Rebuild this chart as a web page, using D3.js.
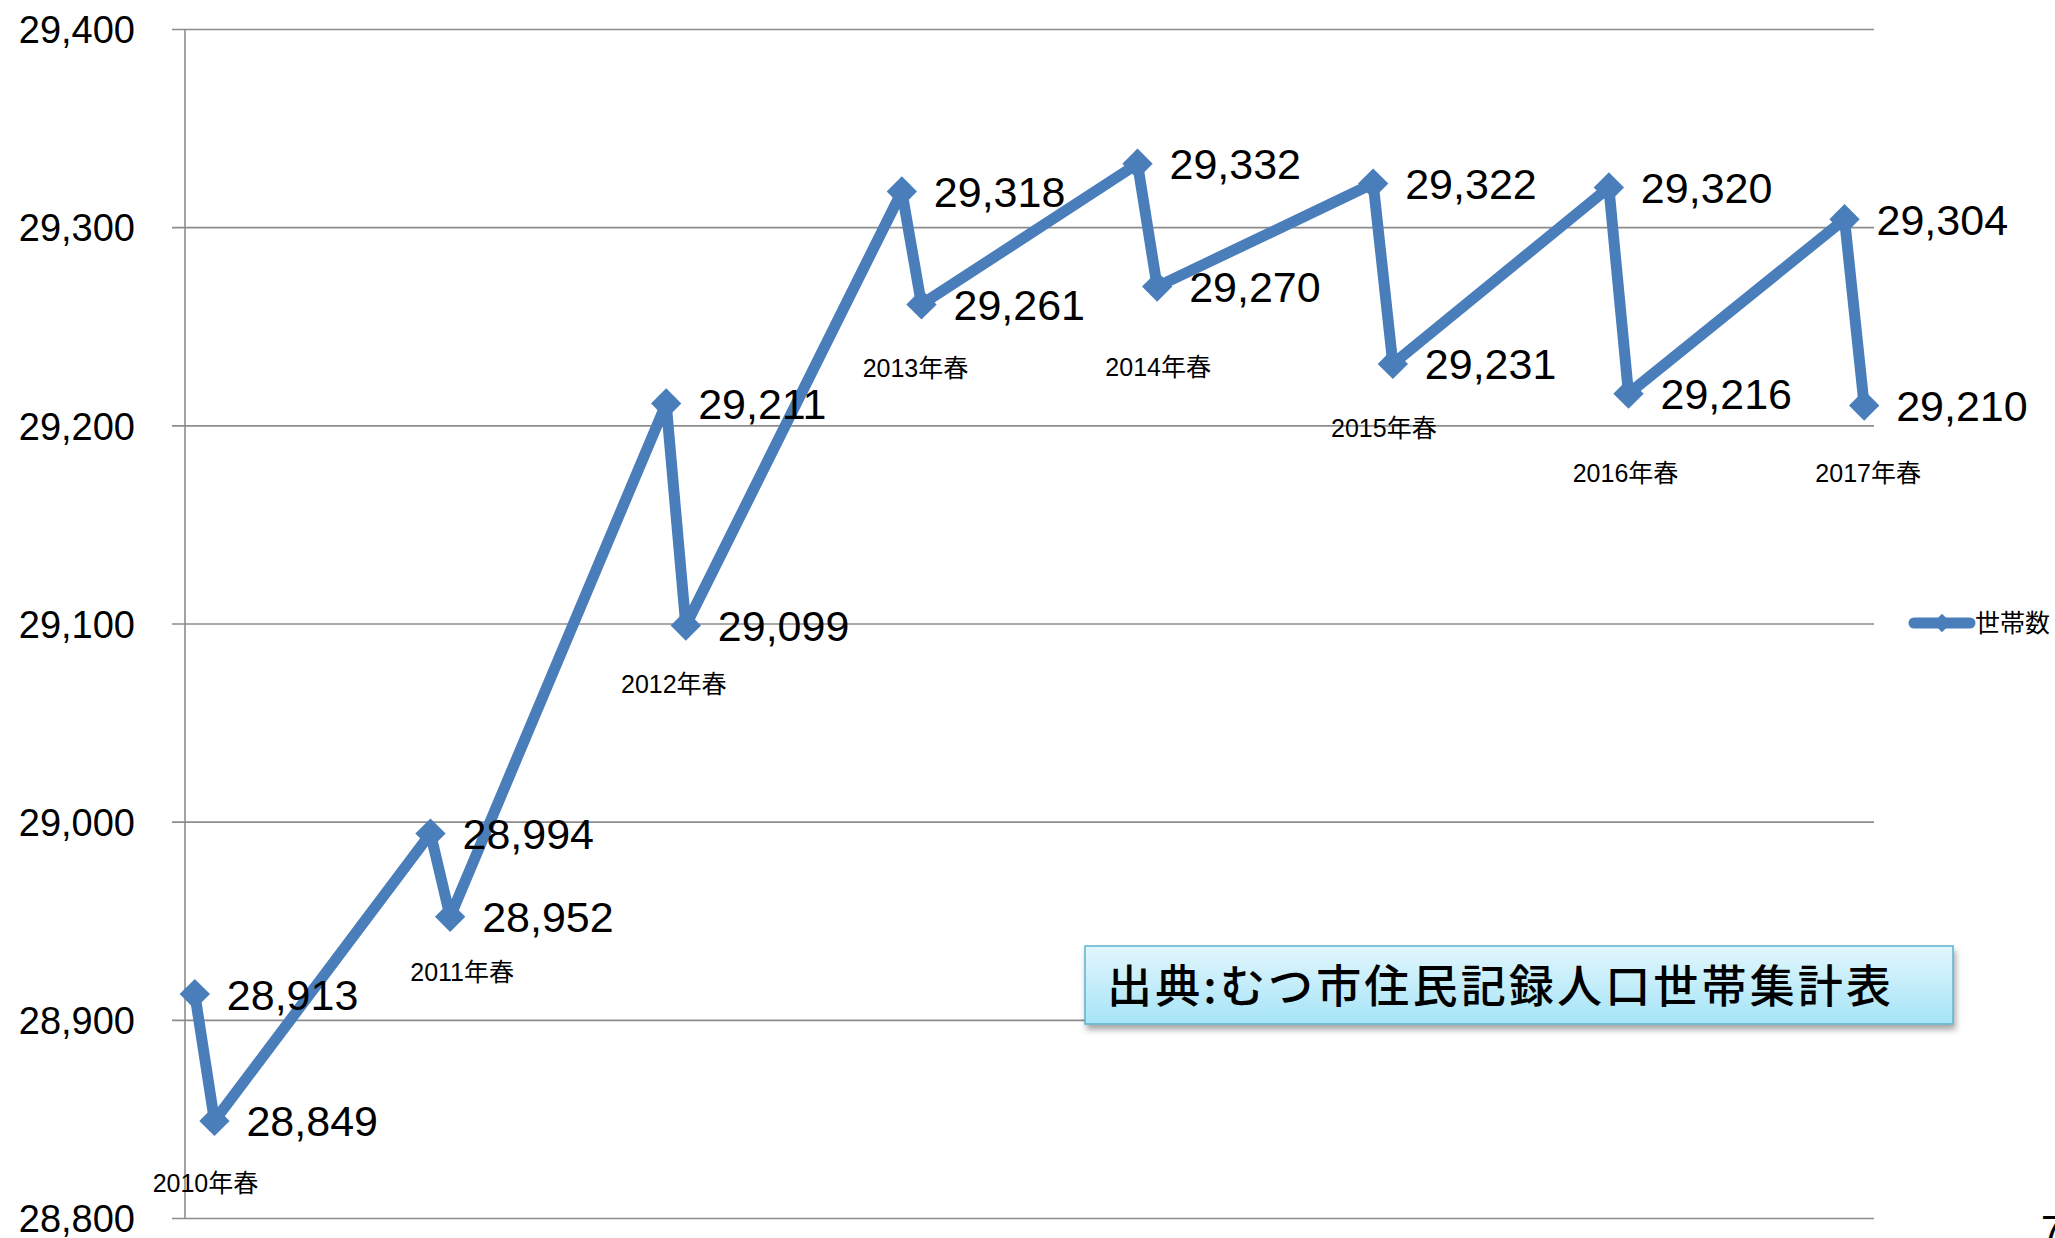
<!DOCTYPE html>
<html>
<head>
<meta charset="utf-8">
<script src="https://cdn.jsdelivr.net/npm/d3@7"></script>
<style>
  html, body { margin: 0; padding: 0; background: #ffffff; overflow: hidden; }
  svg { display: block; }
</style>
</head>
<body>
<svg id="chart" width="2055" height="1238"></svg>
<script>
// ---------------- data ----------------
const periods = ["2010-03","2010-04","2011-03","2011-04","2012-03","2012-04","2013-03","2013-04",
                 "2014-03","2014-04","2015-03","2015-04","2016-03","2016-04","2017-03","2017-04"];
const households = [28913,28849,28994,28952,29211,29099,29318,29261,
                    29332,29270,29322,29231,29320,29216,29304,29210];
const springPeriods = ["2010-04","2011-04","2012-04","2013-04","2014-04","2015-04","2016-04","2017-04"];
const springLabels = ["2010年春","2011年春","2012年春","2013年春","2014年春","2015年春","2016年春","2017年春"];
const yTicks = [28800, 28900, 29000, 29100, 29200, 29300, 29400];
const seriesName = "世帯数";
const sourceText = "出典:むつ市住民記録人口世帯集計表";
const pageNumber = "7";

// ---------------- layout ----------------
const svg = d3.select("#chart");
const plot = { left: 185, right: 1874, top: 29, bottom: 1218 };
const blue = "#4a7ebb";
const grid = "#8c8c8c";
const latin = "'Liberation Sans', Arial, 'Noto Sans CJK JP', sans-serif";
const cjk = "'Noto Sans CJK JP', 'Liberation Sans', sans-serif";

const fmtMonth = d3.timeFormat("%Y-%m");
const parseMonth = d3.timeParse("%Y-%m");
const monthDomain = d3.timeMonth.range(parseMonth("2010-03"), d3.timeMonth.offset(parseMonth("2017-04"), 1)).map(fmtMonth);

const x = d3.scaleBand().domain(monthDomain).range([plot.left, plot.right]).padding(0);
const xc = p => x(p) + x.bandwidth() / 2;
const y = d3.scaleLinear().domain([28800, 29400]).range([plot.bottom, plot.top]);

// gridlines + tick marks + labels via one axis
const yAxis = d3.axisLeft(y)
  .tickValues(yTicks)
  .tickFormat(d3.format(","))
  .tickSizeInner(plot.right - 172)
  .tickSizeOuter(0)
  .tickPadding(37);
const gy = svg.append("g").attr("transform", `translate(${plot.right},0)`).call(yAxis);
gy.select(".domain").remove();
gy.selectAll(".tick line").attr("stroke", grid).attr("stroke-width", 1.6);
gy.selectAll(".tick text")
  .attr("font-family", latin).attr("font-size", 38).attr("fill", "#000")
  .attr("dy", "0.36em");

// vertical axis line
svg.append("line")
  .attr("x1", plot.left).attr("x2", plot.left)
  .attr("y1", plot.top).attr("y2", plot.bottom)
  .attr("stroke", grid).attr("stroke-width", 1.6);

// series
const pts = periods.map((p, i) => ({ p, v: households[i] }));
const line = d3.line().x(d => xc(d.p)).y(d => y(d.v));
svg.append("path")
  .datum(pts)
  .attr("d", line)
  .attr("fill", "none")
  .attr("stroke", blue)
  .attr("stroke-width", 11)
  .attr("stroke-linejoin", "round")
  .attr("stroke-linecap", "round");

const diamond = d3.symbol().type(d3.symbolSquare).size(460);
svg.append("g").selectAll("path")
  .data(pts).join("path")
  .attr("d", diamond)
  .attr("transform", d => `translate(${xc(d.p)},${y(d.v)}) rotate(45)`)
  .attr("fill", blue);

// data labels
svg.append("g").selectAll("text")
  .data(pts).join("text")
  .attr("x", d => xc(d.p) + 32)
  .attr("y", d => y(d.v))
  .attr("dy", "0.36em")
  .attr("font-family", latin)
  .attr("font-size", 43)
  .attr("fill", "#000")
  .text(d => d3.format(",")(d.v));

// spring category labels (manually placed text boxes in the original)
const springOffsets = [[-9, 62], [12, 55], [-12, 59], [-6, 64], [1, 80], [-9, 64], [-3, 79], [4, 67]];
const valueAt = p => households[periods.indexOf(p)];
svg.append("g").selectAll("text")
  .data(springPeriods).join("text")
  .attr("x", (p, i) => xc(p) + springOffsets[i][0])
  .attr("y", (p, i) => y(valueAt(p)) + springOffsets[i][1])
  .attr("dy", "0.36em")
  .attr("text-anchor", "middle")
  .attr("font-family", latin)
  .attr("font-size", 25)
  .attr("fill", "#000")
  .text((p, i) => springLabels[i]);

// legend
const lg = svg.append("g").attr("transform", "translate(1912,623)");
lg.append("line").attr("x1", 2).attr("x2", 58).attr("y1", 0).attr("y2", 0)
  .attr("stroke", blue).attr("stroke-width", 11).attr("stroke-linecap", "round");
lg.append("path").attr("d", d3.symbol().type(d3.symbolSquare).size(170)())
  .attr("transform", "translate(30,0) rotate(45)").attr("fill", blue);
lg.append("text").attr("x", 63).attr("y", 0).attr("dy", "0.36em")
  .attr("font-family", cjk).attr("font-size", 25).attr("fill", "#000")
  .text(seriesName);

// source box
const defs = svg.append("defs");
const grad = defs.append("linearGradient").attr("id", "srcGrad")
  .attr("x1", 0).attr("y1", 0).attr("x2", 0).attr("y2", 1);
grad.append("stop").attr("offset", "0%").attr("stop-color", "#e2f6fd");
grad.append("stop").attr("offset", "100%").attr("stop-color", "#a5e4f7");
const flt = defs.append("filter").attr("id", "shadow").attr("x", "-5%").attr("y", "-20%").attr("width", "115%").attr("height", "160%");
flt.append("feDropShadow").attr("dx", 2).attr("dy", 5).attr("stdDeviation", 3)
  .attr("flood-color", "#000").attr("flood-opacity", 0.35);

const box = { x: 1085, y: 946, w: 868, h: 78 };
svg.append("rect")
  .attr("x", box.x).attr("y", box.y).attr("width", box.w).attr("height", box.h)
  .attr("fill", "url(#srcGrad)")
  .attr("stroke", "#5fb3cc").attr("stroke-width", 1.5)
  .attr("filter", "url(#shadow)");
svg.append("text")
  .attr("x", 1107).attr("y", box.y + box.h / 2 + 2)
  .attr("dy", "0.36em")
  .attr("font-family", cjk).attr("font-size", 45).attr("font-weight", 500)
  .attr("textLength", 784).attr("lengthAdjust", "spacing")
  .attr("fill", "#000")
  .text(sourceText);

// page number (cut off at the bottom-right corner, as in the original)
svg.append("text")
  .attr("x", 2041).attr("y", 1244)
  .attr("font-family", latin).attr("font-size", 40).attr("fill", "#000")
  .text(pageNumber);
</script>
</body>
</html>
